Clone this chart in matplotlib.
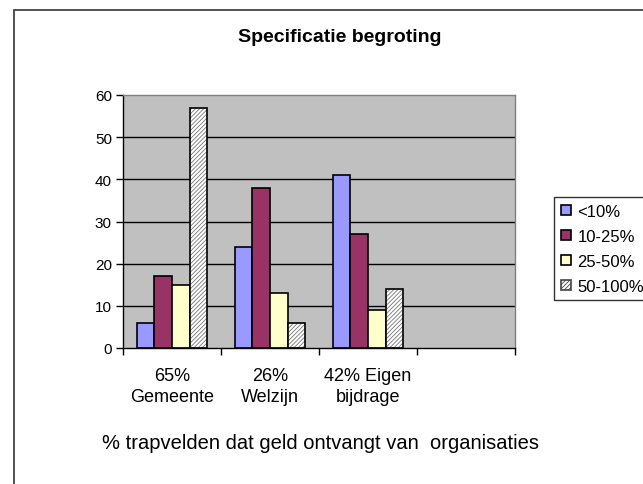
import matplotlib
matplotlib.use("Agg")
import matplotlib.pyplot as plt
from matplotlib.patches import Rectangle
import numpy as np

plt.rcParams['font.family'] = ['Liberation Sans', 'DejaVu Sans']
plt.rcParams['hatch.linewidth'] = 0.6

categories = ["65%\nGemeente", "26%\nWelzijn", "42% Eigen\nbijdrage", ""]
series_names = ["<10%", "10-25%", "25-50%", "50-100%"]
v_lt10 = [6, 24, 41]
v_10_25 = [17, 38, 27]
v_25_50 = [15, 13, 9]
v_50_100 = [57, 6, 14]
yticks = [0, 10, 20, 30, 40, 50, 60]

W, H = 643, 485
fig = plt.figure(figsize=(W / 100, H / 100), dpi=100)
fig.patch.set_facecolor('white')

ax = fig.add_axes([123 / W, 1 - 349 / H, (515 - 123) / W, (349 - 96) / H])
ax.set_facecolor('#C0C0C0')

n_cat = len(categories)
x = np.arange(n_cat) + 0.5
bw = 0.18
colors = ['#9999FF', '#993366', '#FFFFCC', 'white']
data = [v_lt10, v_10_25, v_25_50, v_50_100]
offsets = (np.arange(4) - 1.5) * bw
hatch = '////////'

handles = []
for i, (vals, col) in enumerate(zip(data, colors)):
    xs = x[:len(vals)] + offsets[i]
    if i == 3:
        ax.bar(xs, vals, bw, color='white', edgecolor='#777777', hatch=hatch,
               linewidth=0, zorder=3)
        ax.bar(xs, vals, bw, fill=False, edgecolor='black', linewidth=1.2, zorder=4)
        h = Rectangle((0, 0), 1, 1, facecolor='white', edgecolor='#444444',
                      hatch=hatch, linewidth=1.2)
    else:
        ax.bar(xs, vals, bw, color=col, edgecolor='black', linewidth=1.2, zorder=3)
        h = Rectangle((0, 0), 1, 1, facecolor=col, edgecolor='black', linewidth=1.2)
    handles.append(h)

ax.set_xlim(0, n_cat)
ax.set_ylim(0, 60)
ax.set_yticks(yticks)
ax.tick_params(axis='y', direction='out', length=5, width=1, labelsize=11, pad=3)
for yv in yticks[1:-1]:
    ax.axhline(yv, color='black', linewidth=1, zorder=1)

ax.set_xticks(np.arange(n_cat + 1))
ax.set_xticklabels([])
ax.tick_params(axis='x', which='major', direction='out', length=5, width=1)
ax.set_xticks(x, minor=True)
ax.set_xticklabels(categories, minor=True, fontsize=13, linespacing=1.25)
ax.tick_params(axis='x', which='minor', length=0, pad=14)

for s in ['left', 'bottom']:
    ax.spines[s].set_color('black')
    ax.spines[s].set_linewidth(1)
for s in ['top', 'right']:
    ax.spines[s].set_color('#808080')
    ax.spines[s].set_linewidth(1)
for s in ax.spines.values():
    s.set_zorder(5)

fig.text(340 / W, 1 - 38 / H, "Specificatie begroting", ha='center', va='center',
         fontsize=14, fontweight='bold')
fig.text(321 / W, 1 - 444 / H, "% trapvelden dat geld ontvangt van  organisaties",
         ha='center', va='center', fontsize=14.5)

leg = fig.legend(handles, series_names, loc='upper left',
                 bbox_to_anchor=(554 / W, 1 - 198 / H), borderaxespad=0,
                 fontsize=12, frameon=True, fancybox=False, edgecolor='black',
                 handlelength=0.6, handleheight=0.6, handletextpad=0.4,
                 labelspacing=0.6, borderpad=0.4)
leg.get_frame().set_linewidth(1)

fig.patches.append(Rectangle((14 / W, -0.1), 1.0, 1 - 11 / H + 0.1,
                             transform=fig.transFigure, fill=False,
                             edgecolor='#333333', linewidth=1.2))

fig.savefig('out.png', dpi=100)
